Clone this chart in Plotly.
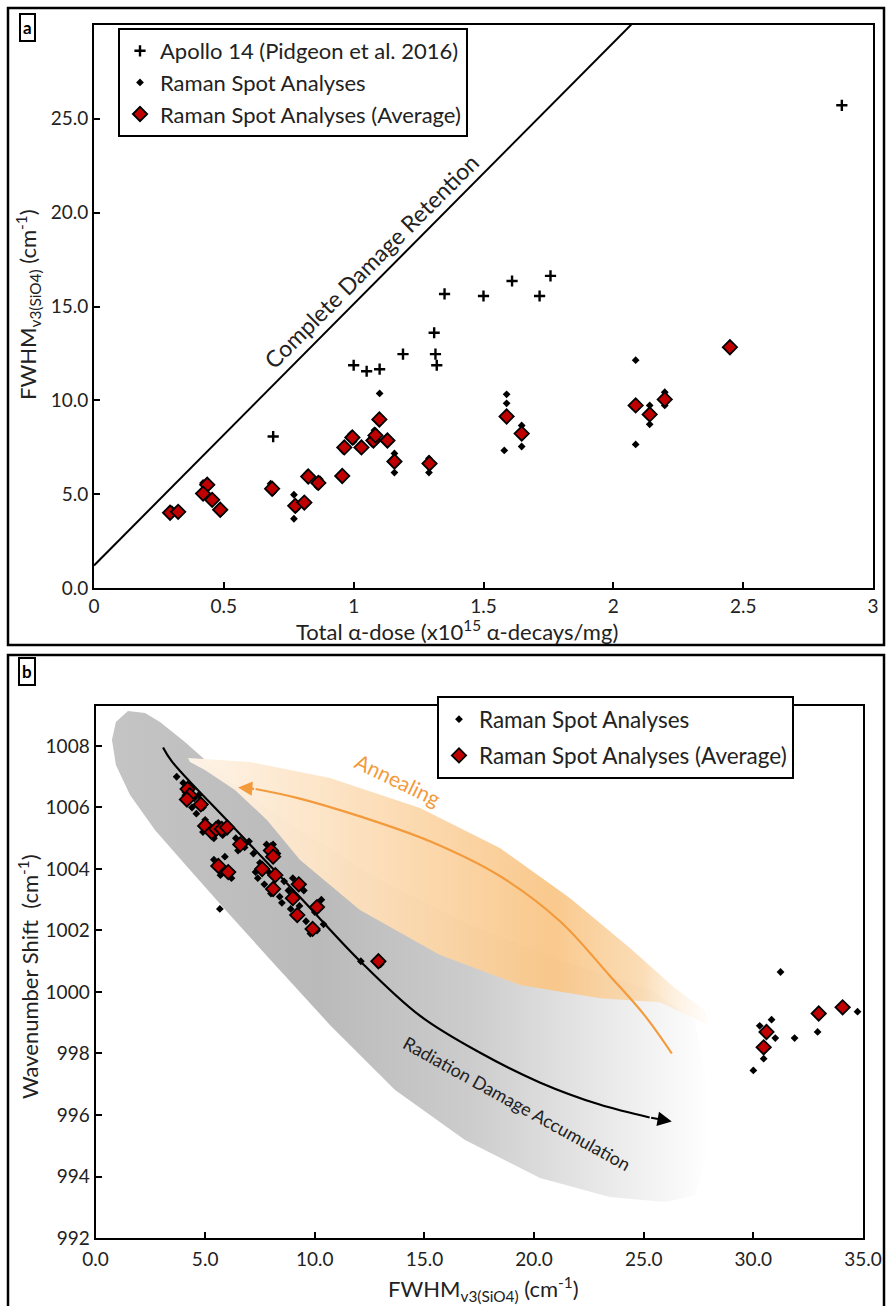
import plotly.graph_objects as go

W, H = 886, 1306
FONT = "Lato"
RED = "#C00000"
ORANGE = "#F39A3C"
TXT = "#222222"

# ---------------- Panel a data ----------------
apollo_dose = [0.69, 1.00, 1.05, 1.10, 1.19, 1.31, 1.315, 1.32, 1.35, 1.50, 1.61, 1.716, 1.758, 2.88]
apollo_fwhm = [8.07, 11.87, 11.55, 11.66, 12.46, 13.6, 12.46, 11.87, 15.67, 15.56, 16.36, 15.56, 16.63, 25.72]

spot_a_dose = [0.29, 0.30, 0.32, 0.33, 0.42, 0.43, 0.42, 0.45, 0.46, 0.49, 0.48, 0.68, 0.69, 0.77, 0.77,
               0.78, 0.81, 0.82, 0.83, 0.86, 0.87, 0.95, 0.96, 0.99, 1.00, 1.03, 1.07, 1.08, 1.09, 1.10,
               1.10, 1.13, 1.157, 1.157, 1.29, 1.29, 1.29, 1.589, 1.589, 1.58, 1.647, 1.647, 2.086, 2.086,
               2.086, 2.14, 2.14, 2.198, 2.198, 2.449]
spot_a_fwhm = [3.9, 4.2, 4.0, 4.2, 5.6, 5.4, 4.9, 4.6, 4.8, 4.0, 4.3, 5.56, 5.1, 4.97, 3.69,
               4.2, 4.4, 6.1, 5.8, 5.4, 5.8, 5.9, 7.3, 8.2, 7.8, 7.6, 7.7, 8.4, 8.0, 10.37,
               8.8, 7.7, 7.17, 6.15, 6.9, 6.15, 6.5, 9.84, 10.32, 7.33, 8.66, 7.54, 12.14, 7.65,
               9.9, 9.73, 8.72, 10.43, 9.73, 12.9]

avg_a_dose = [0.293, 0.324, 0.436, 0.42, 0.455, 0.486, 0.686, 0.775, 0.81, 0.825, 0.864, 0.956, 0.964,
              0.995, 1.03, 1.076, 1.084, 1.099, 1.13, 1.157, 1.292, 1.589, 1.647, 2.086, 2.14, 2.198, 2.449]
avg_a_fwhm = [4.01, 4.06, 5.5, 5.03, 4.7, 4.17, 5.29, 4.38, 4.55, 5.94, 5.6, 5.97, 7.49,
              8.02, 7.49, 7.86, 8.13, 8.98, 7.86, 6.74, 6.63, 9.14, 8.23, 9.73, 9.25, 10.05, 12.83]

retention_intercept = 1.2
retention_slope = 13.93

a_x_ticks = [0, 0.5, 1, 1.5, 2, 2.5, 3]
a_x_ticktext = ["0", "0.5", "1", "1.5", "2", "2.5", "3"]
a_y_ticks = [0, 5, 10, 15, 20, 25]

# ---------------- Panel b data ----------------
spot_b_fwhm = [3.7, 4.0, 4.1, 4.3, 4.5, 4.4, 4.7, 4.9, 4.6, 5.0, 5.2, 4.9, 5.4, 5.6, 5.8, 6.1, 6.4, 6.8,
               7.0, 5.4, 5.7, 6.2, 5.9, 5.67, 7.2, 7.5, 7.8, 8.1, 8.3, 7.4, 7.7, 8.0, 8.4, 7.9, 8.6,
               8.8, 9.0, 9.5, 9.3, 8.9, 9.6, 10.0, 10.3, 10.1, 10.4, 9.8, 12.1, 12.9, 13.0, 8.5, 6.5,
               7.3, 31.24, 30.83, 30.29, 31.0, 31.88, 32.93, 30.47, 30.0, 34.75]
spot_b_shift = [1007.0, 1006.8, 1006.5, 1006.7, 1006.3, 1006.0, 1006.4, 1006.0, 1005.8, 1005.6, 1005.4,
                1005.2, 1005.0, 1005.5, 1005.1, 1005.4, 1005.0, 1004.7, 1004.9, 1004.3, 1003.8, 1003.7,
                1004.4, 1002.7, 1004.5, 1004.2, 1004.8, 1004.8, 1004.5, 1003.7, 1003.5, 1003.2, 1003.1,
                1003.9, 1003.6, 1003.3, 1003.7, 1003.3, 1002.8, 1002.7, 1002.3, 1002.6, 1003.0, 1002.0,
                1002.2, 1001.9, 1001.0, 1001.1, 1000.9, 1002.9, 1004.6, 1003.9, 1000.65, 999.1, 998.9,
                998.5, 998.5, 998.7, 997.83, 997.45, 999.36]

avg_b_fwhm = [4.2, 4.3, 4.17, 4.8, 5.0, 5.3, 5.5, 5.76, 6.0, 6.6, 5.6, 6.05, 7.6, 8.0, 8.1, 8.2, 8.1,
              9.27, 9.0, 10.1, 9.2, 9.9, 12.9, 30.6, 30.47, 32.98, 34.07]
avg_b_shift = [1006.6, 1006.4, 1006.26, 1006.1, 1005.4, 1005.2, 1005.3, 1005.3, 1005.35, 1004.8, 1004.1,
               1003.9, 1004.0, 1004.6, 1004.4, 1003.8, 1003.35, 1003.5, 1003.05, 1002.76, 1002.5, 1002.05,
               1001.0, 998.7, 998.2, 999.3, 999.5]

b_x_ticks = [0, 5, 10, 15, 20, 25, 30, 35]
b_y_ticks = [992, 994, 996, 998, 1000, 1002, 1004, 1006, 1008]

# ---------------- Panel b decorations (data coordinates) ----------------
gray_x = [1.48, 0.93, 0.75, 0.93, 1.57, 2.71, 4.31, 6.13, 8.19, 10.69, 13.66, 16.85, 20.27, 23.46, 25.97,
          27.33, 27.93, 27.84, 27.33, 25.28, 21.18, 17.08, 12.97, 9.33, 6.13, 4.08, 2.94, 2.26, 1.48]
gray_y = [1009.14, 1008.78, 1008.2, 1007.38, 1006.41, 1005.27, 1003.97, 1002.5, 1000.88, 998.93, 996.81,
          995.19, 993.95, 993.33, 993.17, 993.37, 994.86, 997.14, 999.09, 1000.07, 1001.04, 1002.18,
          1003.64, 1005.27, 1006.83, 1008.13, 1008.78, 1009.07, 1009.14]

orange_x = [4.22, 7.04, 10.69, 14.8, 18.44, 21.63, 24.37, 26.42, 27.79, 27.93, 25.74, 23.0, 19.36, 15.71,
            12.06, 9.33, 7.82, 6.36, 4.99, 4.31, 4.22]
orange_y = [1007.61, 1007.48, 1006.96, 1005.98, 1004.68, 1003.06, 1001.43, 1000.13, 999.41, 998.93, 999.67,
            999.8, 1000.23, 1001.2, 1002.67, 1004.29, 1005.59, 1006.57, 1007.22, 1007.48, 1007.61]

anneal_x = [26.28, 25.05, 23.45, 21.17, 18.44, 15.25, 12.06, 9.32, 7.3]
anneal_y = [998.0, 999.23, 1000.53, 1002.31, 1003.77, 1004.9, 1005.71, 1006.29, 1006.6]

damage_x = [3.08, 3.49, 6.13, 9.32, 12.06, 14.79, 17.52, 20.26, 22.99, 25.27]
damage_y = [1007.95, 1007.49, 1005.48, 1003.09, 1001.01, 999.23, 998.03, 997.06, 996.34, 995.92]


def px_x(px):
    return px / W


def px_y(py):
    return 1 - py / H


fig = go.Figure()

# ---- panel a ----
ret_x = [0, 2.2]
ret_y = [retention_intercept + retention_slope * v for v in ret_x]
fig.add_trace(go.Scatter(x=ret_x, y=ret_y, mode="lines", line=dict(color="black", width=2),
                         showlegend=False, hoverinfo="skip", xaxis="x", yaxis="y"))
fig.add_trace(go.Scatter(x=apollo_dose, y=apollo_fwhm, mode="markers", name="Apollo 14 (Pidgeon et al. 2016)",
                         marker=dict(symbol="cross-thin", size=8, color="black",
                                     line=dict(color="black", width=2.4)),
                         xaxis="x", yaxis="y", legend="legend"))
fig.add_trace(go.Scatter(x=spot_a_dose, y=spot_a_fwhm, mode="markers", name="Raman Spot Analyses",
                         marker=dict(symbol="diamond", size=6, color="black"),
                         xaxis="x", yaxis="y", legend="legend"))
fig.add_trace(go.Scatter(x=avg_a_dose, y=avg_a_fwhm, mode="markers", name="Raman Spot Analyses (Average)",
                         marker=dict(symbol="diamond", size=11, color=RED, line=dict(color="black", width=1.8)),
                         xaxis="x", yaxis="y", legend="legend"))

# ---- panel b decorations ----
fig.add_trace(go.Scatter(x=gray_x, y=gray_y, mode="lines", fill="toself", line=dict(width=0),
                         fillgradient=dict(type="horizontal", start=0.7, stop=28,
                                           colorscale=[[0, "rgb(196,196,196)"], [0.35, "rgb(186,186,186)"],
                                                       [0.6, "rgb(204,204,204)"], [0.82, "rgb(232,232,232)"],
                                                       [1, "rgb(255,255,255)"]]),
                         showlegend=False, hoverinfo="skip", xaxis="x2", yaxis="y2"))
fig.add_trace(go.Scatter(x=orange_x, y=orange_y, mode="lines", fill="toself", line=dict(width=0),
                         fillgradient=dict(type="horizontal", start=4.2, stop=28,
                                           colorscale=[[0, "rgba(254,244,232,0.97)"], [0.35, "rgba(252,222,185,0.97)"],
                                                       [0.7, "rgba(249,198,135,0.95)"], [0.87, "rgba(250,214,168,0.85)"],
                                                       [1, "rgba(255,250,244,0.4)"]]),
                         showlegend=False, hoverinfo="skip", xaxis="x2", yaxis="y2"))
fig.add_trace(go.Scatter(x=anneal_x, y=anneal_y, mode="lines", line=dict(color=ORANGE, width=2.2, shape="spline"),
                         showlegend=False, hoverinfo="skip", xaxis="x2", yaxis="y2"))
fig.add_trace(go.Scatter(x=damage_x, y=damage_y, mode="lines", line=dict(color="black", width=2.2, shape="spline"),
                         showlegend=False, hoverinfo="skip", xaxis="x2", yaxis="y2"))

# ---- panel b data ----
fig.add_trace(go.Scatter(x=spot_b_fwhm, y=spot_b_shift, mode="markers", name="Raman Spot Analyses",
                         marker=dict(symbol="diamond", size=6, color="black"), legendgroup="g1",
                         xaxis="x2", yaxis="y2", legend="legend2"))
fig.add_trace(go.Scatter(x=avg_b_fwhm, y=avg_b_shift, mode="markers", name="Raman Spot Analyses (Average)",
                         marker=dict(symbol="diamond", size=11, color=RED, line=dict(color="black", width=1.8)),
                         legendgroup="g2", xaxis="x2", yaxis="y2", legend="legend2"))

axis_common = dict(showgrid=False, zeroline=False, showline=True, linecolor="black", linewidth=2,
                   mirror=True, ticks="inside", ticklen=6, tickwidth=1.5, tickcolor="black",
                   tickfont=dict(family=FONT, size=19, color=TXT), automargin=False)

fig.update_layout(
    width=W, height=H, margin=dict(l=0, r=0, t=0, b=0),
    paper_bgcolor="white", plot_bgcolor="white",
    font=dict(family=FONT, color="black"),
    xaxis=dict(domain=[px_x(94), px_x(873)], range=[0, 3], anchor="y", tickvals=a_x_ticks,
               ticktext=a_x_ticktext, **axis_common),
    yaxis=dict(domain=[px_y(588), px_y(25)], range=[0, 30], anchor="x", tickvals=a_y_ticks,
               tickformat=".1f", **axis_common),
    xaxis2=dict(domain=[px_x(95.5), px_x(863)], range=[0, 35], anchor="y2", tickvals=b_x_ticks,
                tickformat=".1f", ticklabelstandoff=3, **axis_common),
    yaxis2=dict(domain=[px_y(1238), px_y(706)], range=[992, 1009.3], anchor="x2", tickvals=b_y_ticks,
                **axis_common),
    legend=dict(x=px_x(118), y=px_y(28), xanchor="left", yanchor="top", bgcolor="white",
                bordercolor="black", borderwidth=2, font=dict(family=FONT, size=22, color=TXT),
                tracegroupgap=0, itemsizing="trace"),
    legend2=dict(x=px_x(437), y=px_y(696), xanchor="left", yanchor="top", bgcolor="white",
                 bordercolor="black", borderwidth=2, font=dict(family=FONT, size=22.5, color=TXT),
                 tracegroupgap=4, itemsizing="trace"),
)

shapes = [
    dict(type="rect", xref="paper", yref="paper", x0=px_x(8), x1=px_x(884), y0=px_y(645), y1=px_y(8),
         line=dict(color="black", width=2.5)),
    dict(type="rect", xref="paper", yref="paper", x0=px_x(8), x1=px_x(884), y0=px_y(1312), y1=px_y(655),
         line=dict(color="black", width=2.5)),
]
fig.update_layout(shapes=shapes)


def ptext(text, px, py, size=22, angle=0, color=TXT, **kw):
    return dict(text=text, x=px_x(px), y=px_y(py), xref="paper", yref="paper", showarrow=False,
                xanchor="center", yanchor="middle", textangle=angle,
                font=dict(family=FONT, size=size, color=color), **kw)


annotations = [
    ptext("<b>a</b>", 27, 27, size=17, color="black", bordercolor="black", borderwidth=2, borderpad=2,
          bgcolor="white"),
    ptext("<b>b</b>", 27, 671, size=17, color="black", bordercolor="black", borderwidth=2, borderpad=2,
          bgcolor="white"),
    ptext("FWHM<sub>v3(SiO4)</sub> (cm<sup>-1</sup>)", 28, 305, angle=-90),
    ptext("Total α-dose (x10<sup>15</sup> α-decays/mg)", 457, 630),
    ptext("Wavenumber Shift  (cm<sup>-1</sup>)", 28, 977, angle=-90),
    ptext("FWHM<sub>v3(SiO4)</sub> (cm<sup>-1</sup>)", 483, 1289),
    dict(text="Complete Damage Retention", x=1.068, y=17.4, xref="x", yref="y", showarrow=False,
         xanchor="center", yanchor="middle", textangle=-45, font=dict(family=FONT, size=23, color=TXT)),
    dict(text="Annealing", x=13.8, y=1006.9, xref="x2", yref="y2", showarrow=False, textangle=26,
         xanchor="center", yanchor="middle", font=dict(family=FONT, size=21, color=ORANGE)),
    dict(text="Radiation Damage Accumulation", x=19.2, y=996.4, xref="x2", yref="y2", showarrow=False,
         xanchor="center", yanchor="middle", textangle=29, font=dict(family=FONT, size=18, color=TXT)),
    dict(text="", x=anneal_x[-1] - 0.8, y=anneal_y[-1] + 0.05, ax=anneal_x[-1], ay=anneal_y[-1],
         xref="x2", yref="y2", axref="x2", ayref="y2", showarrow=True, arrowhead=2, arrowsize=1.3,
         arrowwidth=2.2, arrowcolor=ORANGE),
    dict(text="", x=26.28, y=995.79, ax=damage_x[-1], ay=damage_y[-1],
         xref="x2", yref="y2", axref="x2", ayref="y2", showarrow=True, arrowhead=2, arrowsize=1.3,
         arrowwidth=2.2, arrowcolor="black"),
]
fig.update_layout(annotations=annotations)

fig.write_html("out.html")
